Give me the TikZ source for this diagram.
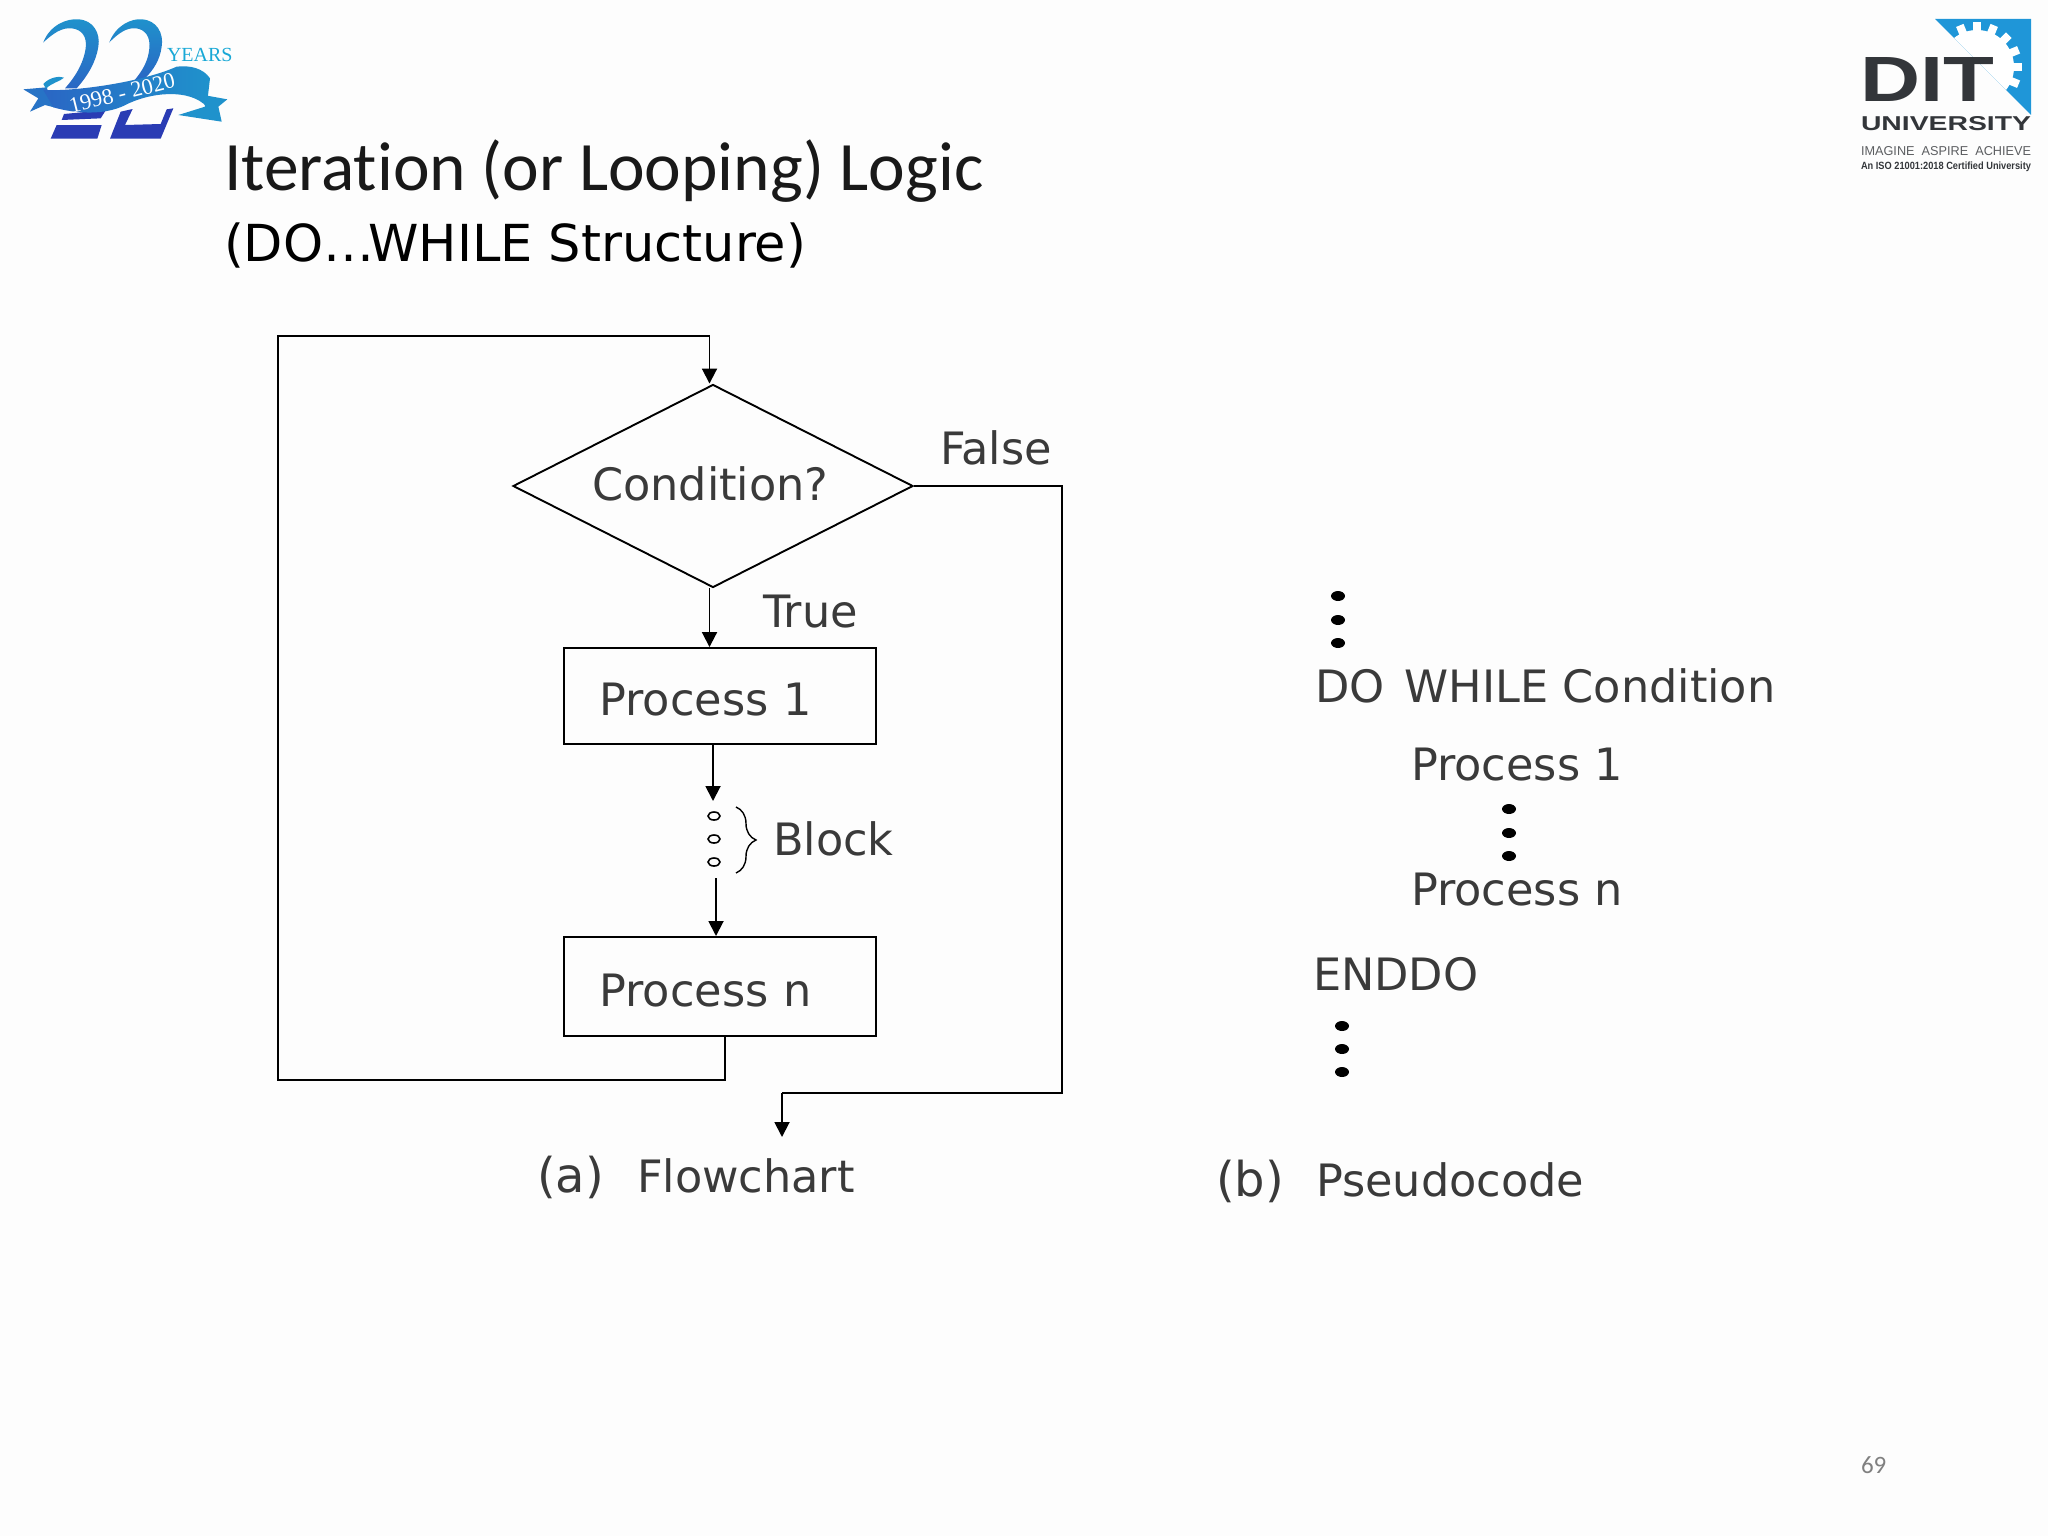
\documentclass[tikz,border=0pt]{standalone}
\usepackage{fontspec}
\setmainfont{DejaVu Sans}
\newfontfamily\carlito[Ligatures=NoCommon]{Carlito}
\newfontfamily\libserif{Liberation Serif}
\newfontfamily\libsans{Liberation Sans}
\usetikzlibrary{arrows.meta,shapes.geometric,decorations.pathreplacing,calc}
\definecolor{ink}{HTML}{3A3A3A}
\definecolor{logotop}{HTML}{1F92CC}
\definecolor{logomid}{HTML}{2A66C4}
\definecolor{logodark}{HTML}{2A3CB4}
\definecolor{gearblue}{HTML}{1F96D8}
\definecolor{ditgray}{HTML}{33363A}
\definecolor{paper}{HTML}{FDFDFD}
\tikzset{
  x=0.5pt,y=-0.5pt,
  txt/.style={anchor=base west,inner sep=0pt,outer sep=0pt,text=ink,font=\fontsize{22.3}{26}\selectfont},
  capfont/.style={font=\fontsize{24}{28}\selectfont},
  flow/.style={draw=black,line width=0.95pt},
  arr/.style={flow,-{Triangle[length=7.5pt,width=7.5pt]}},
  pbox/.style={draw=black,line width=0.95pt,minimum width=156pt,align=left,text width=120.5pt,inner xsep=17.75pt,inner ysep=0pt,text depth=0pt,text=ink,font=\fontsize{22.3}{26}\selectfont},
  opendot/.style={ellipse,draw=black,line width=0.8pt,minimum width=6pt,minimum height=4pt,inner sep=0pt},
  bigdot/.style={ellipse,fill=black,minimum width=7pt,minimum height=5pt,inner sep=0pt},
  logotext/.style={inner sep=0pt,outer sep=0pt}
}
\begin{document}
\begin{tikzpicture}
\useasboundingbox (0,0) rectangle (2048,1536);
\fill[paper] (0,0) rectangle (2048,1536);

% left logo, drawn in crop units (1 unit = 1/3 px)
\begin{scope}[shift={(10,10)},x=0.16667pt,y=-0.16667pt]
 % upper strokes of the two 2s
 \path[top color=logotop,bottom color=logomid]
  (100,97) .. controls (120,45) and (170,25) .. (205,28)
  .. controls (250,30) and (272,70) .. (265,110)
  .. controls (258,155) and (235,195) .. (200,235)
  -- (165,235) .. controls (205,190) and (222,150) .. (227,115)
  .. controls (232,80) and (215,58) .. (185,55)
  .. controls (155,52) and (130,70) .. (100,97) -- cycle;
 \path[top color=logotop,bottom color=logomid]
  (298,97) .. controls (318,45) and (365,25) .. (395,28)
  .. controls (440,30) and (462,70) .. (455,110)
  .. controls (450,150) and (430,180) .. (405,205)
  -- (370,215) .. controls (400,180) and (415,150) .. (418,115)
  .. controls (422,80) and (405,58) .. (378,55)
  .. controls (350,52) and (325,70) .. (298,97) -- cycle;
 % lower parts
 \fill[logodark] (140,345) -- (275,345) -- (262,386) -- (122,386) -- cycle;
 \fill[logodark] (162,312) -- (288,300) -- (272,325) -- (155,330) -- cycle;
 \fill[logodark] (332,305) -- (368,297) -- (345,345) -- (452,342) -- (470,298) -- (490,295) -- (452,386) -- (300,386) -- cycle;
 % ribbon tails and leaf
 \fill[logomid!70!logotop] (40,238) -- (110,232) -- (132,292) -- (105,285) -- (60,305) -- (85,265) -- cycle;
 \fill[logotop] (580,255) -- (652,268) -- (625,290) -- (635,335) -- (505,315) -- (585,290) -- cycle;
 \fill[logotop] (100,222) .. controls (120,200) and (150,198) .. (162,203) .. controls (150,215) and (125,218) .. (108,236) -- cycle;
 % ribbon
 \path[left color=logomid,right color=logotop]
  (100,240) .. controls (200,245) and (400,215) .. (500,170)
  .. controls (540,165) and (580,175) .. (600,205)
  -- (590,290) .. controls (540,235) and (420,245) .. (340,288)
  .. controls (280,315) and (200,312) .. (130,292) -- cycle;
\end{scope}
\node[logotext,text=white,rotate=14] (years) at (122,93) {\libserif\fontsize{11.2}{13}\selectfont 1998 - 2020};
\node[logotext,anchor=base west,text=logotop!80!cyan] (yrs) at (167,62) {\libserif\fontsize{10}{12}\selectfont YEARS};

% right logo
\begin{scope}
 \clip (1935,19) -- (2031,19) -- (2031,115) -- cycle;
 \fill[gearblue] (1935,19) -- (2031,19) -- (2031,115) -- cycle;
 \fill[white] (1977,67) circle (37);
 \foreach \a in {0,22.5,...,337.5}
   \fill[white,rotate around={\a:(1977,67)}] (1973,22) rectangle (1981,40);
\end{scope}
\node[logotext,anchor=north west,text=ditgray] (dit) at (1860,57) {\resizebox{67pt}{22pt}{\libsans\bfseries DIT}};
\node[logotext,anchor=north west,text=ditgray] (univ) at (1861,117) {\resizebox{85pt}{7pt}{\libsans\bfseries UNIVERSITY}};
\node[logotext,anchor=north west,text=ditgray!80] (tag) at (1861,146) {\resizebox{85pt}{4.5pt}{\libsans IMAGINE\ \ ASPIRE\ \ ACHIEVE}};
\node[logotext,anchor=north west,text=ditgray] (iso) at (1861,162) {\resizebox{85pt}{3.8pt}{\libsans\bfseries An ISO 21001:2018 Certified University}};

% titles
\node[txt,text=black!90,font=\carlito\fontsize{34.7}{40}\selectfont] (title) at (224,190.5) {Iteration (or Looping) Logic};
\node[txt,text=black,font=\fontsize{25.5}{30}\selectfont] (sub) at (224,261.5) {(DO…\kern-3pt WHILE Structure)};

% flowchart
\node[diamond,draw=black,line width=0.95pt,minimum width=200pt,minimum height=101.5pt,aspect=1.97,inner sep=0pt] (cond) at (713,486) {};
\node[txt] (condt) at (592,500) {Condition?};
\node[pbox,minimum height=48pt,text height=19pt] (p1) at (720,696) {Process 1};
\node[pbox,minimum height=49.5pt,text height=20.3pt] (pn) at (720,986.5) {Process n};
\node[opendot] (o1) at (714,816) {};
\node[opendot] (o2) at (714,839) {};
\node[opendot] (o3) at (714,862) {};
\coordinate (tx) at (709.5,0);
\coordinate (rx) at (725,0);
\coordinate (loopTL) at (278,336);
\coordinate (loopTR) at (709.5,336);
\coordinate (loopBL) at (278,1080);
\coordinate (loopBR) at (725,1080);
\coordinate (outTR) at (1062,486);
\coordinate (outBR) at (1062,1093);
\coordinate (outBL) at (782,1093);
\coordinate (outEnd) at (782,1137);
\coordinate (a1end) at (713,801);
\coordinate (a2start) at (716,878);
\coordinate (a2end) at (716,936);
\draw[flow] (pn.south -| rx) -- (loopBR) -- (loopBL) -- (loopTL) -- (loopTR);
\draw[arr] (loopTR) -- (cond.north -| tx);
\draw[arr] (cond.south -| tx) -- (p1.north -| tx);
\draw[arr] (p1.south -| a1end) -- (a1end);
\draw[arr] (a2start) -- (a2end);
\draw[flow] (cond.east) -- (outTR) -- (outBR) -- (outBL);
\draw[arr] (outBL) -- (outEnd);
\draw[line width=0.7pt,decorate,decoration={brace,amplitude=10pt}] (736,807) -- (736,873);
\node[txt] (false) at (940,464) {False};
\node[txt] (true) at (763,627) {True};
\node[txt] (block) at (773,855) {Block};
\node[txt,capfont] (capa) at (537,1192) {(a)};
\node[txt] (capaw) at (637,1192) {Flowchart};

% pseudocode
\foreach \n/\x/\y in {a1/1338/596,a2/1338/620,a3/1338/643,b1/1509/809,b2/1509/833,b3/1509/856,c1/1342/1026,c2/1342/1049,c3/1342/1072}
  \node[bigdot] (dot\n) at (\x,\y) {};
\node[txt] (dw) at (1315,702) {DO\kern3pt\ WHILE Condition};
\node[txt] (pc1) at (1411,780) {Process 1};
\node[txt] (pcn) at (1411,905) {Process n};
\node[txt] (endo) at (1313,990) {ENDDO};
\node[txt,capfont] (capb) at (1216,1196) {(b)};
\node[txt] (capbw) at (1316,1196) {Pseudocode};
\node[txt,text=black!50,font=\carlito\fontsize{12.5}{14}\selectfont] (pg) at (1861,1473) {69};
\end{tikzpicture}
\end{document}
